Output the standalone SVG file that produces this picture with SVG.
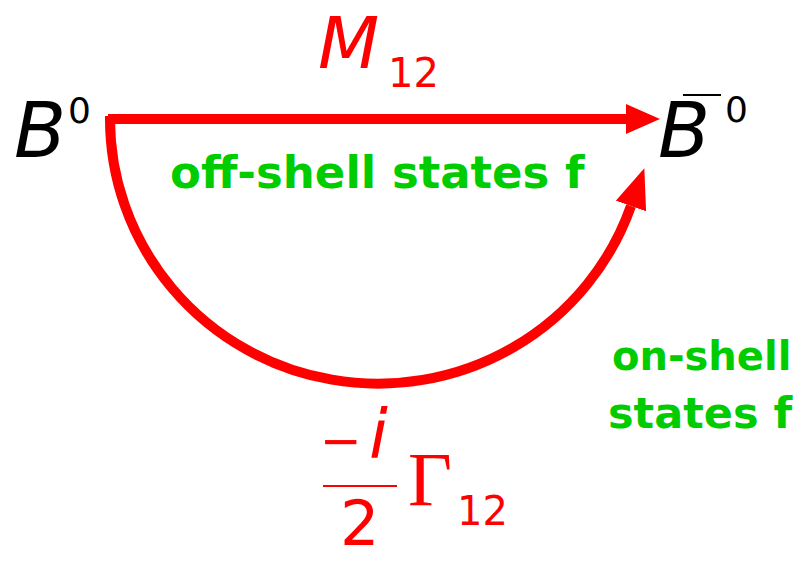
<svg xmlns="http://www.w3.org/2000/svg" width="806" height="561" viewBox="0 0 806 561">
<defs>
<style>
.red{fill:#ff0000;font-family:"DejaVu Sans","Liberation Sans",sans-serif}
.blk{fill:#000;font-family:"DejaVu Sans","Liberation Sans",sans-serif}
.grn{fill:#00cc00;font-family:"DejaVu Sans","Liberation Sans",sans-serif;font-weight:bold}
.line{stroke:#ff0000;stroke-width:10;fill:none}
</style>
<marker id="ah1" markerUnits="userSpaceOnUse" markerWidth="34" markerHeight="30" refX="0" refY="15" orient="auto">
<path d="M0,0 L34,15 L0,30 Z" fill="#ff0000"/>
</marker>
<marker id="ah2" markerUnits="userSpaceOnUse" markerWidth="40" markerHeight="32" refX="0" refY="16" orient="auto">
<path d="M0,0 L40,16 L0,32 Z" fill="#ff0000"/>
</marker>
</defs>
<g id="connectors">
<path class="line" d="M108,119 L626,119" marker-end="url(#ah1)"/>
<path class="line" d="M110,116 A268,265 0 0 0 631,206" marker-end="url(#ah2)"/>
</g>
<g id="B0">
<text class="blk" x="14" y="157" font-size="76" font-style="italic">B</text>
<text class="blk" x="68" y="123" font-size="36">0</text>
</g>
<g id="Bbar0">
<text class="blk" x="658" y="157" font-size="76" font-style="italic">B</text>
<line x1="683" y1="95" x2="721" y2="95" stroke="#000" stroke-width="2"/>
<text class="blk" x="725" y="122" font-size="36">0</text>
</g>
<g id="M12">
<text class="red" x="318" y="68" font-size="71" font-style="italic">M</text>
<text class="red" x="388" y="87" font-size="40">12</text>
</g>
<g id="offshell">
<text class="grn" x="170" y="188" font-size="45">off-shell states f</text>
</g>
<g id="onshell">
<text class="grn" x="612" y="370" font-size="40">on-shell</text>
<text class="grn" x="608" y="428" font-size="43">states f</text>
</g>
<g id="gamma12">
<text class="red" x="320" y="458" font-size="50">−</text>
<text class="red" x="369" y="458" font-size="68" font-style="italic">i</text>
<line x1="323" y1="486" x2="397" y2="486" stroke="#ff0000" stroke-width="2"/>
<text class="red" x="340" y="545" font-size="62">2</text>
<text x="408" y="505" font-size="76" fill="#ff0000" font-family="Liberation Serif,serif">Γ</text>
<text class="red" x="457" y="525" font-size="40">12</text>
</g>
</svg>
